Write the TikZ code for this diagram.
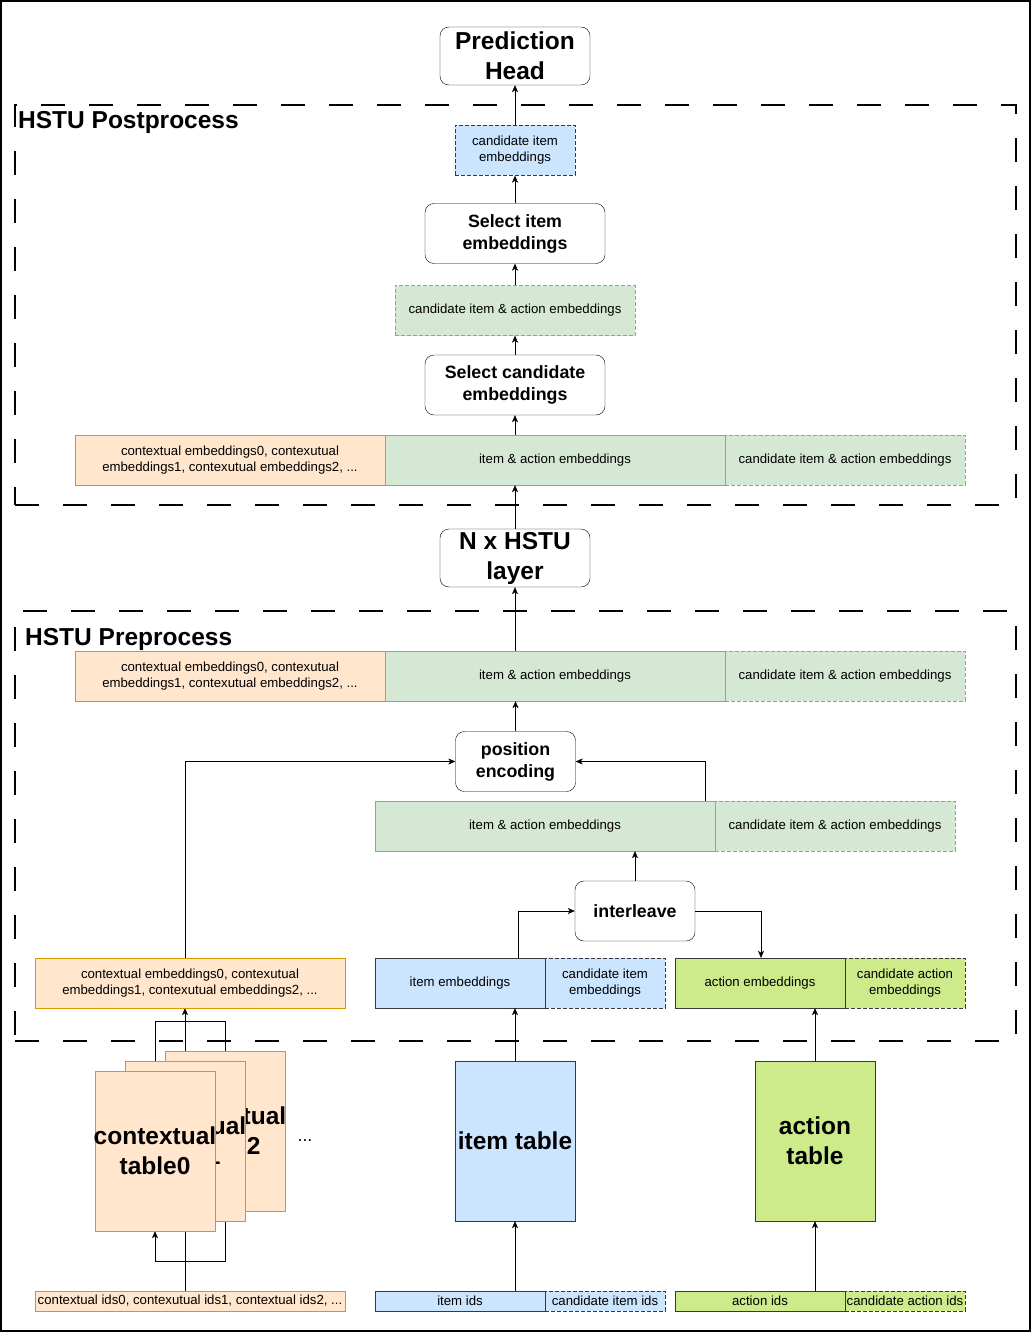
\documentclass[tikz,border=0pt]{standalone}
\usepackage{fontspec}
\setmainfont{Liberation Sans}
\usetikzlibrary{arrows.meta}
\usetikzlibrary{backgrounds}

\definecolor{ctxfill}{HTML}{FFE6CC}
\definecolor{ctxline}{HTML}{D79B00}
\definecolor{iafill}{HTML}{D5E8D4}
\definecolor{ialine}{HTML}{82B366}
\definecolor{itemfill}{HTML}{CCE5FF}
\definecolor{actfill}{HTML}{CDEB8B}
\definecolor{darkline}{HTML}{36393D}

\begin{document}
\begin{tikzpicture}[x=1pt, y=-1pt,
    seg/.style={rectangle, inner sep=0pt, minimum height=50pt, align=center,
        font=\fontsize{13.2}{16}\selectfont},
    ctxseg/.style={seg, fill=ctxfill, draw=ctxline},
    iaseg/.style={seg, fill=iafill, draw=ialine},
    itemseg/.style={seg, fill=itemfill, draw=darkline},
    actseg/.style={seg, fill=actfill, draw=darkline},
    cand/.style={dash pattern=on 4pt off 2pt},
    proc/.style={draw, rounded corners=9pt, fill=white, inner sep=0pt,
        minimum width=180pt, minimum height=60pt, align=center,
        font=\fontsize{17.8}{22}\bfseries\selectfont},
    bigproc/.style={proc, minimum width=150pt, minimum height=58pt,
        font=\fontsize{24.5}{30}\bfseries\selectfont},
    emtable/.style={rectangle, inner sep=0pt, minimum width=120pt, minimum height=160pt},
    tablabel/.style={inner sep=0pt, align=center, font=\fontsize{24.5}{30}\bfseries\selectfont},
    frame/.style={draw, rectangle, inner sep=0pt, line width=2pt, dash pattern=on 24pt off 24pt},
    title/.style={inner sep=0pt, anchor=base west, font=\fontsize{24.5}{30}\bfseries\selectfont},
    arr/.style={-{Stealth[length=7pt, width=6pt, inset=2pt]}}]
    \useasboundingbox (0,0) rectangle (1031,1332);
    \draw[line width=1.5pt] (1,1) rectangle (1030,1331); % outer border
    % groups
    \node[frame, minimum width=1001pt, minimum height=400pt] (postframe) at (515.5,305) {};
    \node[title] (posttitle) at (18,129) {HSTU Postprocess};
    \node[frame, minimum width=1001pt, minimum height=430pt] (preframe) at (515.5,826) {};
    \node[title] (pretitle) at (25,645) {HSTU Preprocess};
    % postprocess
    \node[bigproc] (pred) at (515,56) {Prediction\\Head};
    \node[itemseg, cand, minimum width=120pt] (candemb) at (515,150.5) {candidate item\\embeddings};
    \node[proc] (selitem) at (515,233.5) {Select item\\embeddings};
    \node[iaseg, cand, minimum width=240pt] (candia) at (515,310.5) {candidate item \& action embeddings};
    \node[proc] (selcand) at (515,385) {Select candidate\\embeddings};
    \node[iaseg, cand, minimum width=240pt] (ciapost) at (845,460) {candidate item \& action embeddings};
    \node[ctxseg, minimum width=310pt] (ctxpost) at (230,460) {contextual embeddings0, contexutual\\embeddings1, contexutual embeddings2, ...};
    \node[iaseg, minimum width=340pt] (iapost) at (555,460) {item \& action embeddings};
    % hstu
    \node[bigproc] (hstu) at (515,558) {N x HSTU\\layer};
    % preprocess
    \node[iaseg, cand, minimum width=240pt] (ciapre) at (845,676) {candidate item \& action embeddings};
    \node[ctxseg, minimum width=310pt] (ctxpre) at (230,676) {contextual embeddings0, contexutual\\embeddings1, contexutual embeddings2, ...};
    \node[iaseg, minimum width=340pt] (iapre) at (555,676) {item \& action embeddings};
    \node[proc, minimum width=120pt] (posenc) at (515.5,761.5) {position\\encoding};
    \node[iaseg, cand, minimum width=240pt] (cia) at (835,826) {candidate item \& action embeddings};
    \node[iaseg, minimum width=340pt] (ia) at (545,826) {item \& action embeddings};
    \node[proc, minimum width=120pt] (interleave) at (635,911) {interleave};
    \node[ctxseg, minimum width=310pt] (ctxemb) at (190,983) {contextual embeddings0, contexutual\\embeddings1, contexutual embeddings2, ...};
    \node[itemseg, cand, minimum width=120pt] (citememb) at (605,983) {candidate item\\embeddings};
    \node[itemseg, minimum width=170pt] (itememb) at (460,983) {item embeddings};
    \node[actseg, cand, minimum width=120pt] (cactemb) at (905,983) {candidate action\\embeddings};
    \node[actseg, minimum width=170pt] (actemb) at (760,983) {action embeddings};
    % tables
    \node[emtable, fill=ctxfill, draw=ctxline] (ctab2) at (225,1131) {};
    \node[tablabel] (ctab2txt) at (ctab2.center) {contextual\\table2};
    \node[emtable, fill=ctxfill, draw=ctxline] (ctab1) at (185,1141) {};
    \node[tablabel] (ctab1txt) at (ctab1.center) {contextual\\table1};
    \node[emtable, fill=ctxfill, draw=ctxline] (ctab0) at (155,1151) {};
    \node[tablabel] (ctab0txt) at (ctab0.center) {contextual\\table0};
    \node[font=\fontsize{17.8}{22}\selectfont] (more) at (305,1141) {...};
    \node[emtable, fill=itemfill, draw=darkline] (itemtab) at (515,1141) {};
    \node[tablabel] (itemtabtxt) at (itemtab.center) {item table};
    \node[emtable, fill=actfill, draw=darkline] (acttab) at (815,1141) {};
    \node[tablabel] (acttabtxt) at (acttab.center) {action\\table};
    % ids
    \node[ctxseg, minimum width=310pt, minimum height=20pt] (ctxids) at (190,1301) {contextual ids0, contexutual ids1, contextual ids2, ...};
    \node[itemseg, cand, minimum width=120pt, minimum height=20pt] (citemids) at (605,1301) {candidate item ids};
    \node[itemseg, minimum width=170pt, minimum height=20pt] (itemids) at (460,1301) {item ids};
    \node[actseg, cand, minimum width=120pt, minimum height=20pt] (cactids) at (905,1301) {candidate action ids};
    \node[actseg, minimum width=170pt, minimum height=20pt] (actids) at (760,1301) {action ids};
    % connectors
    \draw[arr] (candemb.north) -- (pred.south);
    \draw[arr] (selitem.north) -- (candemb.south);
    \draw[arr] (candia.north) -- (selitem.south);
    \draw[arr] (selcand.north) -- (candia.south);
    \draw[arr] (selcand.south |- iapost.north) -- (selcand.south);
    \draw[arr] (hstu.north) -- (hstu.north |- iapost.south);
    \draw[arr] (hstu.south |- iapre.north) -- (hstu.south);
    \draw[arr] (posenc.north) -- (posenc.north |- iapre.south);
    \draw[arr] ([xshift=-5pt]ctxemb.north) |- (posenc.west);
    \draw[arr] ([xshift=-10pt]ia.north east) |- (posenc.east);
    \draw[arr] (interleave.north) -- (interleave.north |- ia.south);
    \draw[arr] ([xshift=58pt]itememb.north) |- (interleave.west);
    \draw[arr] (interleave.east) -| ([xshift=1pt]actemb.north);
    \draw[arr] (itemtab.north) -- (itemtab.north |- itememb.south);
    \draw[arr] (itemtab.south |- itemids.north) -- (itemtab.south);
    \draw[arr] (acttab.north) -- (acttab.north |- actemb.south);
    \draw[arr] (acttab.south |- actids.north) -- (acttab.south);
    \begin{pgfonlayer}{background}
    \draw[arr] ([xshift=-5pt]ctxids.north) -- ([xshift=-5pt]ctxemb.south);
    \draw[arr] (ctab2.south) -- ++(0,50) -| (ctab0.south);
    \draw (ctab0.north) -- ++(0,-50) -| (ctab2.north);
    \end{pgfonlayer}
\end{tikzpicture}
\end{document}
